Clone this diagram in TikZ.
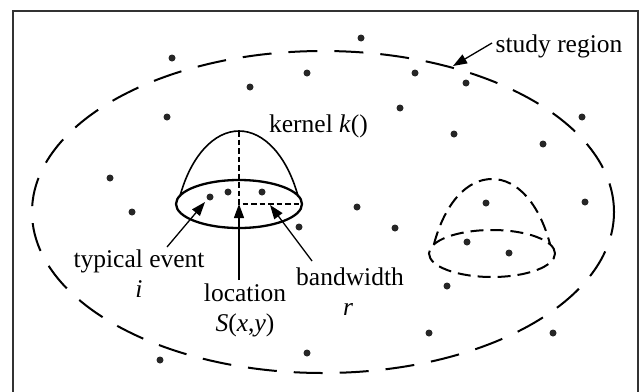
\documentclass[tikz,border=0pt]{standalone}
\usepackage{fontspec}
\setmainfont{Liberation Serif}
\usetikzlibrary{arrows.meta}
\begin{document}
\begin{tikzpicture}[x=1pt,y=-1pt,
  lab/.style={font=\fontsize{25.5}{30}\selectfont, inner sep=0pt, anchor=base},
  dotst/.style={fill=black!85},
  outerdash/.style={line width=2pt, dash pattern=on 29pt off 17pt},
  kerntwo/.style={line width=2pt, dash pattern=on 13pt off 7pt},
  innerdash/.style={line width=1.2pt, dash pattern=on 5.5pt off 3pt},
  arr/.style={line width=1.3pt, -{Triangle[length=14pt,width=10pt]}},
  framest/.style={line width=2pt, draw=black!80}]
\useasboundingbox (0,0) rectangle (644,391);
\fill[white] (0,0) rectangle (644,391);
\draw[framest] (12.5,395) -- (12.5,10.5) -- (638,10.5) -- (638,395);
% study region
\draw[outerdash] (323,212) ellipse [x radius=291pt, y radius=161pt];
% dots
\foreach \p in {(361,38),(172,58),(307,73),(415,73),(466,83),(250,87),(400,108),(167,117),(582,117),(454,134),(543,144),(110,178),(210,197),(228,192),(262,192),(132,212),(357,207),(486,203),(585,202),(299,227),(395,228),(467,242),(509,253),(447,286),(429,333),(553,333),(307,353),(160,360)}
  \fill[dotst] \p circle[radius=3.5pt];
% kernel 1
\coordinate (c1) at (239,204);
\draw[line width=2.3pt] (c1) ellipse [x radius=63pt, y radius=24pt];
\draw[line width=1.6pt] (180,196) .. controls (191,156) and (214,131) .. (239,131) .. controls (264,131) and (287,156) .. (298,196);
\draw[innerdash] (239,131) -- (c1) -- (302,204);
% kernel 2
\coordinate (c2) at (492,253.5);
\draw[kerntwo] (c2) ellipse [x radius=63pt, y radius=23.5pt];
\draw[kerntwo] (434,244) .. controls (445,203) and (467,179) .. (492,179) .. controls (517,179) and (539,203) .. (550,244);
% labels
\node[lab] (kern) at (318.5,132) {kernel \textit{k}()};
\node[lab] (sr) at (559,52) {study region};
\node[lab] (typ) at (139,267) {typical event};
\node[lab] (typi) at (139,297) {\textit{i}};
\node[lab] (loc) at (245,301) {location};
\node[lab] (locS) at (245,331) {\textit{S}(\textit{x},\textit{y})};
\node[lab] (bw) at (350,285) {bandwidth};
\node[lab] (bwr) at (348,315) {\textit{r}};
% arrows
\coordinate (typT) at (167,247);
\coordinate (typH) at (205,202);
\coordinate (locT) at (239,280);
\coordinate (bwT) at (312,261);
\coordinate (bwH) at (270,205);
\coordinate (srT) at (492,43);
\coordinate (srH) at (453,66);
\draw[arr] (typT) -- (typH);
\draw[arr] (locT) -- (c1);
\draw[arr] (bwT) -- (bwH);
\draw[arr] (srT) -- (srH);
\end{tikzpicture}
\end{document}
